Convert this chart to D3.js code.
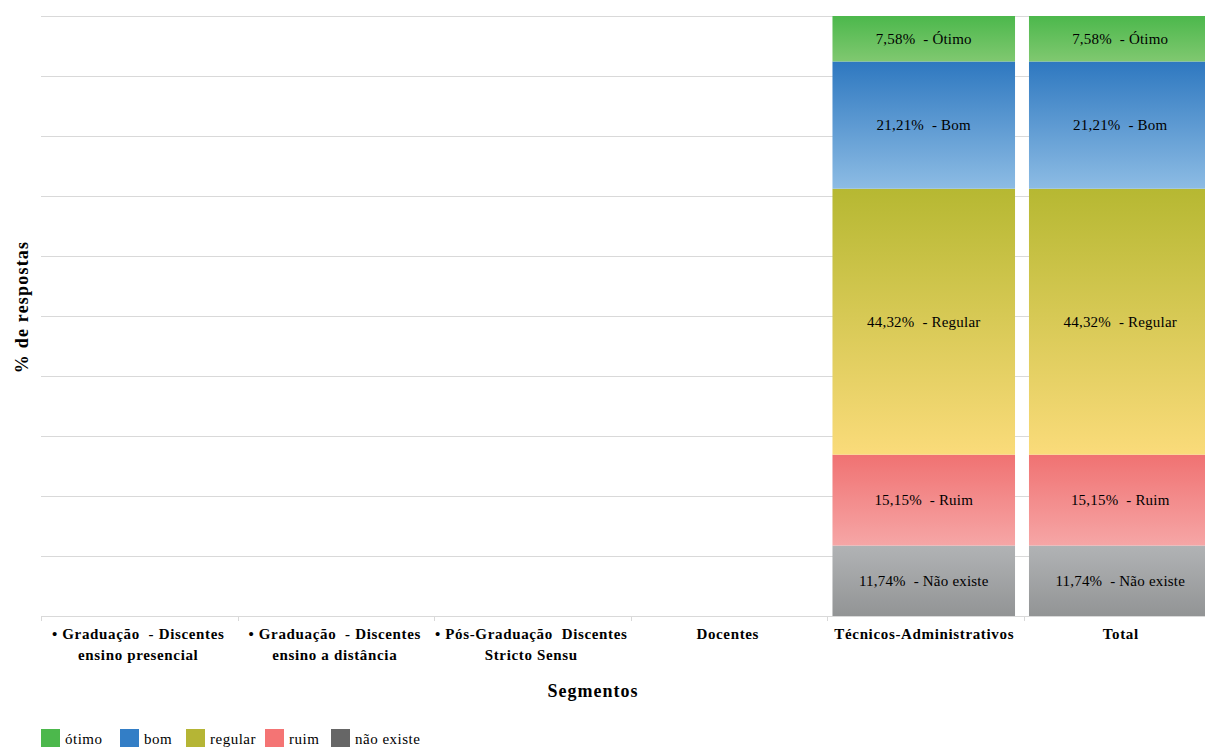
<!DOCTYPE html>
<html>
<head>
<meta charset="utf-8">
<style>
  body { margin: 0; background: #fff; }
  text { font-family: "Liberation Serif", "Times New Roman", serif; fill: #000; }
</style>
</head>
<body>
<div id="chart"></div>
<script src="https://cdn.jsdelivr.net/npm/d3@7"></script>
<script>
  const categories = [
    ['• Graduação  - Discentes', 'ensino presencial'],
    ['• Graduação  - Discentes', 'ensino a distância'],
    ['• Pós-Graduação  Discentes', 'Stricto Sensu'],
    ['Docentes'],
    ['Técnicos-Administrativos'],
    ['Total']
  ];
  const series = ['não existe', 'ruim', 'regular', 'bom', 'ótimo'];
  const seriesLabels = ['Não existe', 'Ruim', 'Regular', 'Bom', 'Ótimo'];
  // values per category, in series order (empty categories have no answers)
  const naoExiste = [null, null, null, null, 11.74, 11.74];
  const ruim      = [null, null, null, null, 15.15, 15.15];
  const regular   = [null, null, null, null, 44.32, 44.32];
  const bom       = [null, null, null, null, 21.21, 21.21];
  const otimo     = [null, null, null, null, 7.58, 7.58];
  const yTicks = [0, 10, 20, 30, 40, 50, 60, 70, 80, 90, 100];

  const legendOrder = ['ótimo', 'bom', 'regular', 'ruim', 'não existe'];
  const legendColors = { 'ótimo': '#4cb84c', 'bom': '#337ec6', 'regular': '#b5b535', 'ruim': '#f47474', 'não existe': '#666666' };
  const grads = {
    'ótimo': ['#4cb84c', '#80c870'],
    'bom': ['#2e78c0', '#8dbce4'],
    'regular': ['#b6b832', '#fadb7a'],
    'ruim': ['#f07272', '#f6a6a6'],
    'não existe': ['#b1b3b5', '#929495']
  };

  const W = 1205, H = 747;
  const margin = {top: 16, left: 41};
  const plotW = 1179, plotH = 600;

  const svg = d3.select('#chart').append('svg')
    .attr('width', W).attr('height', H);

  const defs = svg.append('defs');
  series.forEach((s, i) => {
    const g = defs.append('linearGradient')
      .attr('id', 'g' + i).attr('x1', 0).attr('y1', 0).attr('x2', 0).attr('y2', 1);
    g.append('stop').attr('offset', '0%').attr('stop-color', grads[s][0]);
    g.append('stop').attr('offset', '100%').attr('stop-color', grads[s][1]);
  });

  const x = d3.scaleBand()
    .domain(d3.range(categories.length))
    .range([margin.left - 1.5, margin.left - 1.5 + plotW])
    .paddingInner(0.071).paddingOuter(0.0355);

  const xEdge = d3.scaleLinear().domain([0, categories.length])
    .range([margin.left, margin.left + plotW]);

  const y = d3.scaleLinear().domain([0, 100])
    .range([margin.top + plotH, margin.top]);

  // gridlines
  svg.append('g').selectAll('line')
    .data(yTicks.slice(1))
    .join('line')
    .attr('x1', margin.left).attr('x2', W)
    .attr('y1', d => y(d) + 0.5).attr('y2', d => y(d) + 0.5)
    .attr('stroke', '#d9d9d9').attr('stroke-width', 1);

  // baseline and category ticks
  svg.append('line')
    .attr('x1', margin.left).attr('x2', W)
    .attr('y1', y(0) + 0.5).attr('y2', y(0) + 0.5)
    .attr('stroke', '#d9d9d9');
  svg.append('g').selectAll('line')
    .data(d3.range(categories.length + 1))
    .join('line')
    .attr('x1', d => Math.round(xEdge(d)) + 0.5).attr('x2', d => Math.round(xEdge(d)) + 0.5)
    .attr('y1', y(0)).attr('y2', y(0) + 5)
    .attr('stroke', '#d9d9d9');

  // stacked data
  const table = categories.map((c, i) => ({
    i,
    'não existe': naoExiste[i], 'ruim': ruim[i], 'regular': regular[i], 'bom': bom[i], 'ótimo': otimo[i]
  })).filter(d => d['não existe'] != null);

  const stack = d3.stack().keys(series)(table);

  const layers = svg.append('g').selectAll('g')
    .data(stack).join('g')
    .attr('fill', (d, k) => `url(#g${k})`);

  layers.selectAll('rect')
    .data(d => d)
    .join('rect')
    .attr('x', d => x(d.data.i))
    .attr('width', x.bandwidth())
    .attr('y', d => y(d[1]))
    .attr('height', d => y(d[0]) - y(d[1]));

  layers.each(function(layer, k) {
    d3.select(this).selectAll('text')
      .data(layer)
      .join('text')
      .attr('x', d => x(d.data.i) + x.bandwidth() / 2)
      .attr('y', d => (y(d[0]) + y(d[1])) / 2)
      .attr('text-anchor', 'middle')
      .attr('dominant-baseline', 'central')
      .attr('font-size', 15)
      .attr('letter-spacing', 0.2)
      .style('white-space', 'pre')
      .attr('fill', '#000')
      .text(d => d3.format('.2f')(d[1] - d[0]).replace('.', ',') + '%  - ' + seriesLabels[k]);
  });

  // category labels
  const catG = svg.append('g');
  categories.forEach((lines, i) => {
    const t = catG.append('text')
      .attr('x', xEdge(i + 0.5) - 1)
      .attr('y', 639)
      .attr('text-anchor', 'middle')
      .attr('font-size', 15)
      .attr('letter-spacing', 0.65)
      .style('white-space', 'pre')
      .attr('font-weight', 'bold');
    lines.forEach((l, j) => {
      t.append('tspan').attr('x', xEdge(i + 0.5) - 1).attr('dy', j ? 21 : 0).text(l);
    });
  });

  // axis titles
  svg.append('text')
    .attr('x', 593).attr('y', 697)
    .attr('text-anchor', 'middle')
    .attr('font-size', 18).attr('font-weight', 'bold')
    .attr('letter-spacing', 1)
    .text('Segmentos');

  svg.append('text')
    .attr('transform', 'translate(28, 307) rotate(-90)')
    .attr('text-anchor', 'middle')
    .attr('font-size', 18).attr('font-weight', 'bold')
    .attr('letter-spacing', 1.2)
    .text('% de respostas');

  // legend
  const legendX = [41, 120, 186, 265, 331];
  const legend = svg.append('g');
  legendOrder.forEach((s, i) => {
    legend.append('rect')
      .attr('x', legendX[i]).attr('y', 729)
      .attr('width', 19).attr('height', 18)
      .attr('fill', legendColors[s]);
    legend.append('text')
      .attr('x', legendX[i] + 24).attr('y', 744)
      .attr('font-size', 15)
      .attr('letter-spacing', 0.5)
      .text(s);
  });
</script>
</body>
</html>
